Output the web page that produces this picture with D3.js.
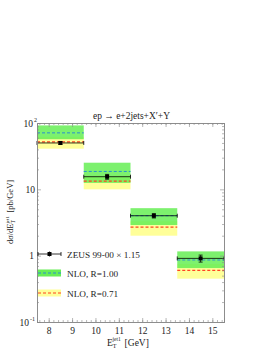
<!DOCTYPE html>
<html>
<head>
<meta charset="utf-8">
<script src="https://cdn.jsdelivr.net/npm/d3@7"></script>
<style>
  body { margin: 0; background: #fff; }
  svg { font-family: "Liberation Serif", "DejaVu Serif", serif; }
</style>
</head>
<body>
<svg width="270" height="349"></svg>
<script>
// bins in E_T^jet1 (GeV)
let binLo = [7.5, 9.5, 11.5, 13.5];
let binHi = [9.5, 11.5, 13.5, 15.5];
let binMid = [8.5, 10.5, 12.5, 14.5];

// ZEUS 99-00 x 1.15 data (pb/GeV)
let dataVal = [50, 15.5, 4.0, 0.91];
let dataErr = [2.5, 1.3, 0.3, 0.11];

// NLO R=1.00 (central, band low, band high)
let nlo1 = [71, 18.6, 4.0, 0.86];
let nlo1Lo = [57, 12.5, 2.9, 0.65];
let nlo1Hi = [92, 25.2, 5.2, 1.16];

// NLO R=0.71
let nlo2 = [52, 13.3, 2.7, 0.60];
let nlo2Lo = [41, 10.0, 2.0, 0.45];
let nlo2Hi = [62, 16, 3.3, 0.75];

let xTicks = [8, 9, 10, 11, 12, 13, 14, 15];

let svg = d3.select("svg");
let L = 37, R = 224, T = 123, B = 322;

let x = d3.scaleLinear().domain([7.5, 15.5]).range([L, R]);
let y = d3.scaleLog().domain([0.1, 100]).range([B, T]);

// shrink/grow a text so it spans a given width
function fitWidth(sel, w) {
  let fs = +sel.attr("font-size");
  let len = sel.node().getComputedTextLength();
  if (len > 0) sel.attr("font-size", (fs * w / len).toFixed(2));
}

let g = svg.append("g");

// yellow bands (R=0.71)
g.selectAll("rect.yb").data(binMid).enter().append("rect")
  .attr("x", (d, i) => x(binLo[i])).attr("width", (d, i) => x(binHi[i]) - x(binLo[i]))
  .attr("y", (d, i) => y(nlo2Hi[i])).attr("height", (d, i) => y(nlo2Lo[i]) - y(nlo2Hi[i]))
  .attr("fill", "#ffff99");

// green bands (R=1.00)
g.selectAll("rect.gb").data(binMid).enter().append("rect")
  .attr("x", (d, i) => x(binLo[i])).attr("width", (d, i) => x(binHi[i]) - x(binLo[i]))
  .attr("y", (d, i) => y(nlo1Hi[i])).attr("height", (d, i) => y(nlo1Lo[i]) - y(nlo1Hi[i]))
  .attr("fill", "#66ee55").attr("opacity", 0.85);

// dashed lines
g.selectAll("line.n2").data(nlo2).enter().append("line")
  .attr("x1", (d, i) => x(binLo[i])).attr("x2", (d, i) => x(binHi[i]))
  .attr("y1", d => y(d)).attr("y2", d => y(d))
  .attr("stroke", "#ff4422").attr("stroke-width", 1.2).attr("stroke-dasharray", "3,2");
g.selectAll("line.n1").data(nlo1).enter().append("line")
  .attr("x1", (d, i) => x(binLo[i])).attr("x2", (d, i) => x(binHi[i]))
  .attr("y1", d => y(d)).attr("y2", d => y(d))
  .attr("stroke", "#2a8fcf").attr("stroke-width", 1).attr("stroke-dasharray", "3,2");

// data points
let pts = g.selectAll("g.pt").data(dataVal).enter().append("g");
pts.append("line")
  .attr("x1", (d, i) => x(binLo[i])).attr("x2", (d, i) => x(binHi[i]))
  .attr("y1", d => y(d)).attr("y2", d => y(d))
  .attr("stroke", "#000").attr("stroke-width", 0.8);
pts.append("line")
  .attr("x1", (d, i) => x(binMid[i])).attr("x2", (d, i) => x(binMid[i]))
  .attr("y1", (d, i) => y(d + dataErr[i])).attr("y2", (d, i) => y(d - dataErr[i]))
  .attr("stroke", "#000").attr("stroke-width", 0.8);
pts.each(function(d, i) {
  let s = d3.select(this);
  [binLo[i], binHi[i]].forEach(v => s.append("line")
    .attr("x1", x(v)).attr("x2", x(v)).attr("y1", y(d) - 2).attr("y2", y(d) + 2)
    .attr("stroke", "#000").attr("stroke-width", 0.8));
  [d + dataErr[i], d - dataErr[i]].forEach(v => s.append("line")
    .attr("x1", x(binMid[i]) - 2).attr("x2", x(binMid[i]) + 2).attr("y1", y(v)).attr("y2", y(v))
    .attr("stroke", "#000").attr("stroke-width", 0.8));
});
pts.append("rect")
  .attr("x", (d, i) => x(binMid[i]) - 2).attr("y", d => y(d) - 2)
  .attr("width", 4).attr("height", 4).attr("fill", "#000");

// frame and axes
let axisCol = "#888";
let minorX = d3.range(7.6, 15.5, 0.2);
svg.append("g").attr("transform", `translate(0,${B})`)
  .call(d3.axisBottom(x).tickValues(minorX).tickSize(-2).tickFormat(""));
svg.append("g").attr("transform", `translate(0,${B})`)
  .call(d3.axisBottom(x).tickValues(xTicks).tickSize(-4).tickPadding(5).tickFormat(d3.format("d")));
svg.append("g").attr("transform", `translate(0,${T})`)
  .call(d3.axisTop(x).tickValues(minorX).tickSize(-2).tickFormat(""));
svg.append("g").attr("transform", `translate(0,${T})`)
  .call(d3.axisTop(x).tickValues(xTicks).tickSize(-4).tickFormat(""));

let minorY = [];
[0.1, 1, 10].forEach(dec => { for (let k = 2; k <= 9; k++) minorY.push(dec * k); });
let majY = [0.1, 1, 10, 100];
svg.append("g").attr("transform", `translate(${L},0)`)
  .call(d3.axisLeft(y).tickValues(minorY).tickSize(-2).tickFormat(""));
svg.append("g").attr("transform", `translate(${L},0)`)
  .call(d3.axisLeft(y).tickValues(majY).tickSize(-4).tickFormat(""));
svg.append("g").attr("transform", `translate(${R},0)`)
  .call(d3.axisRight(y).tickValues(minorY).tickSize(-2).tickFormat(""));
svg.append("g").attr("transform", `translate(${R},0)`)
  .call(d3.axisRight(y).tickValues(majY).tickSize(-4).tickFormat(""));

svg.selectAll(".domain").attr("stroke", axisCol).attr("stroke-width", 0.8);
svg.selectAll(".tick line").attr("stroke", axisCol).attr("stroke-width", 0.6);
svg.selectAll(".tick text").attr("font-family", "Liberation Serif").attr("font-size", 9.5).attr("fill", "#222");

// y tick labels
let yLab = [
  { v: 100, base: "10", sup: "2", xr: 33 },
  { v: 10, base: "10", sup: "", xr: 35 },
  { v: 1, base: "1", sup: "", xr: 34 },
  { v: 0.1, base: "10", sup: "-1", xr: 29 }
];
yLab.forEach(d => {
  svg.append("text").attr("x", d.xr).attr("y", y(d.v) + 3.5).attr("text-anchor", "end")
    .attr("font-size", 9.5).attr("fill", "#222").text(d.base);
  if (d.sup) {
    svg.append("text").attr("x", d.xr + 1).attr("y", y(d.v) - 1)
      .attr("font-size", 6).attr("fill", "#222").text(d.sup);
  }
});

// title
let title = svg.append("text").attr("x", 93).attr("y", 119)
  .attr("font-size", 9).attr("fill", "#222").text("ep \u2192 e+2jets+X\u2032+Y");
fitWidth(title, 77);

// x label
let xl = svg.append("text").attr("x", 107).attr("y", 346).attr("font-size", 9.5).attr("fill", "#222");
xl.append("tspan").text("E");
xl.append("tspan").attr("dy", 2).attr("font-size", 6).text("T");
xl.append("tspan").attr("dx", -4).attr("dy", -7).attr("font-size", 5.5).text("jet1");
xl.append("tspan").attr("dx", 1.5).attr("dy", 5).text(" [GeV]");

// y label
let yl = svg.append("text").attr("transform", "translate(13,212) rotate(-90)")
  .attr("text-anchor", "middle").attr("font-size", 8.5).attr("fill", "#222");
yl.append("tspan").text("d\u03c3/dE");
yl.append("tspan").attr("dy", 2).attr("font-size", 5.5).text("T");
yl.append("tspan").attr("dx", -3.5).attr("dy", -6.5).attr("font-size", 5).text("jet1");
yl.append("tspan").attr("dx", 1.5).attr("dy", 4.5).text(" [pb/GeV]");

// legend
let legY = [254, 273, 293];
let lg = svg.append("g");
lg.append("line").attr("x1", 38).attr("x2", 61).attr("y1", legY[0]).attr("y2", legY[0]).attr("stroke", "#000").attr("stroke-width", 0.8);
lg.append("line").attr("x1", 49.5).attr("x2", 49.5).attr("y1", legY[0] - 2.5).attr("y2", legY[0] + 2.5).attr("stroke", "#000").attr("stroke-width", 0.8);
[38, 61].forEach(v => lg.append("line").attr("x1", v).attr("x2", v).attr("y1", legY[0] - 2).attr("y2", legY[0] + 2).attr("stroke", "#000").attr("stroke-width", 0.8));
lg.append("rect").attr("x", 47.5).attr("y", legY[0] - 2).attr("width", 4).attr("height", 4).attr("fill", "#000");

lg.append("rect").attr("x", 38).attr("y", legY[1] - 3.5).attr("width", 23).attr("height", 7).attr("fill", "#66ee55");
lg.append("line").attr("x1", 38).attr("x2", 61).attr("y1", legY[1]).attr("y2", legY[1]).attr("stroke", "#2a8fcf").attr("stroke-dasharray", "3,2");
lg.append("rect").attr("x", 38).attr("y", legY[2] - 3.5).attr("width", 23).attr("height", 7).attr("fill", "#ffff99");
lg.append("line").attr("x1", 38).attr("x2", 61).attr("y1", legY[2]).attr("y2", legY[2]).attr("stroke", "#ff4422").attr("stroke-width", 1.2).attr("stroke-dasharray", "3,2");

let legText = ["ZEUS 99-00 \u00d7 1.15", "NLO, R=1.00", "NLO, R=0.71"];
let lt = lg.selectAll("text").data(legText).enter().append("text")
  .attr("x", 67).attr("y", (d, i) => legY[i] + 3.5).attr("font-size", 9.5).attr("fill", "#222").text(d => d);
fitWidth(d3.select(lt.nodes()[0]), 73);
lt.attr("font-size", d3.select(lt.nodes()[0]).attr("font-size"));
</script>
</body>
</html>
